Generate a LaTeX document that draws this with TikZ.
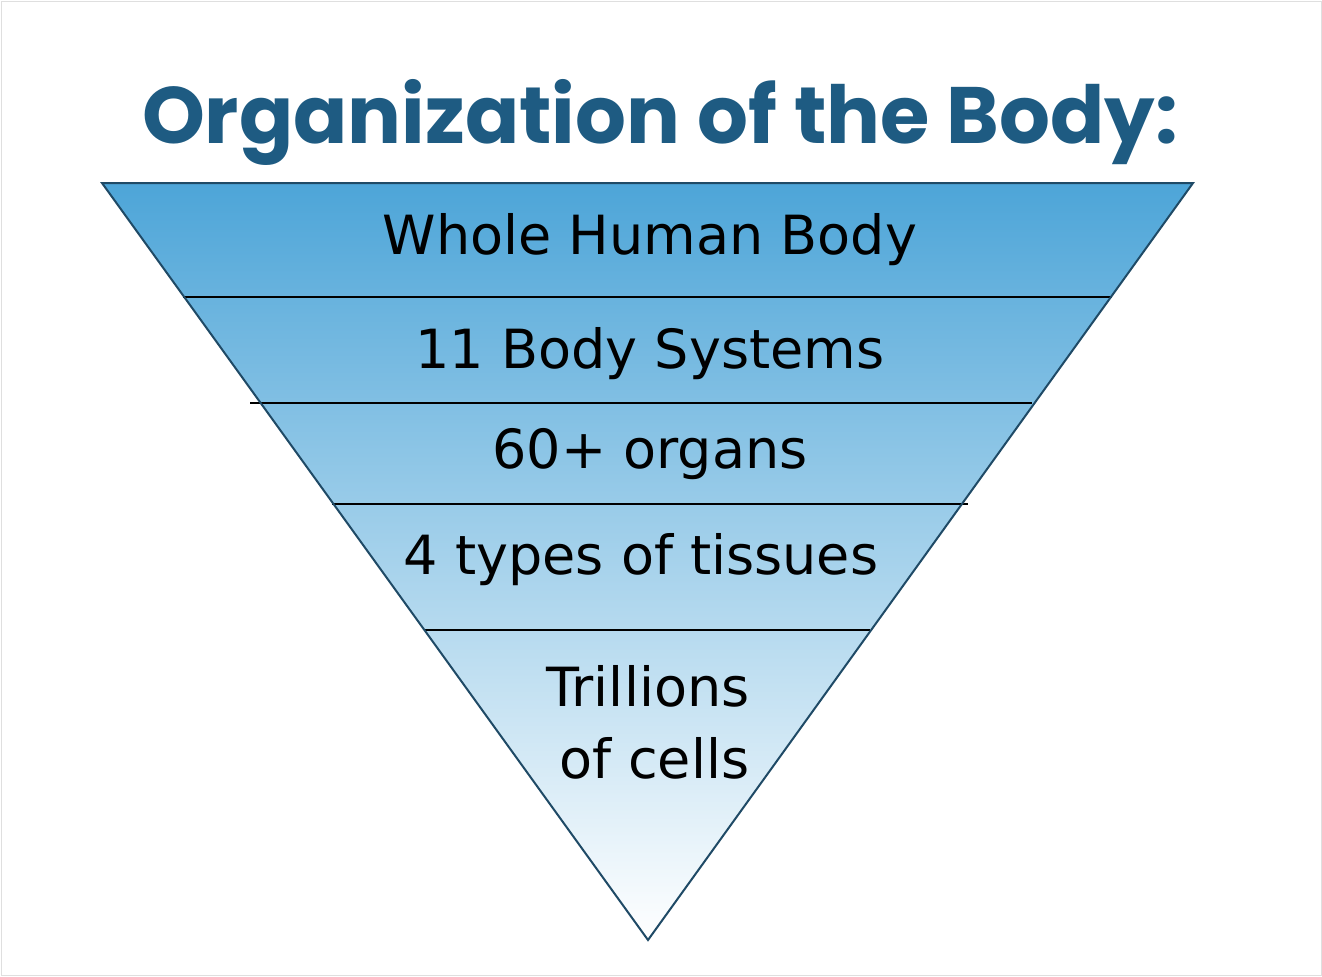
\documentclass[tikz,border=0pt]{standalone}
\usepackage{fontspec}
\setmainfont{DejaVu Sans}
\newfontfamily\titlefont{Poppins}
\definecolor{titleblue}{HTML}{1E5B82}
\definecolor{topblue}{HTML}{4DA5D8}
\definecolor{edge}{HTML}{1F4A66}
\begin{document}
\begin{tikzpicture}[x=0.5pt,y=-0.5pt,
  lbl/.style={font=\fontsize{27pt}{36pt}\selectfont, align=center, inner sep=0pt},
  band/.style={draw=black, line width=0.6pt}]
\useasboundingbox (0,0) rectangle (1322,976);
\draw[gray!25] (1,1) rectangle (1321,975);
\node[font=\titlefont\bfseries\fontsize{40pt}{48pt}\selectfont, text=titleblue, inner sep=0pt] (title) at (660,122) {Organization of the Body:};
\begin{scope}
\clip (102,183) -- (1193,183) -- (648,940) -- cycle;
\shade[top color=topblue, bottom color=white, middle color=topblue!50] (102,183) rectangle (1193,940);
\end{scope}
\draw[band] (183,297) -- (1112,297);
\draw[band] (250,403) -- (1032,403);
\draw[band] (332,504) -- (968,504);
\draw[band] (425,630) -- (870,630);
\draw[edge, line width=1pt] (102,183) -- (1193,183) -- (648,940) -- cycle;
\node[lbl] (a) at (650,240) {Whole Human Body};
\node[lbl] (b) at (650,354) {11 Body Systems};
\node[lbl] (c) at (650,454) {60+ organs};
\node[lbl] (d) at (641,560) {4 types of tissues};
\node[lbl, align=right] (e) at (648,722) {Trillions\\ of cells};
\end{tikzpicture}
\end{document}
